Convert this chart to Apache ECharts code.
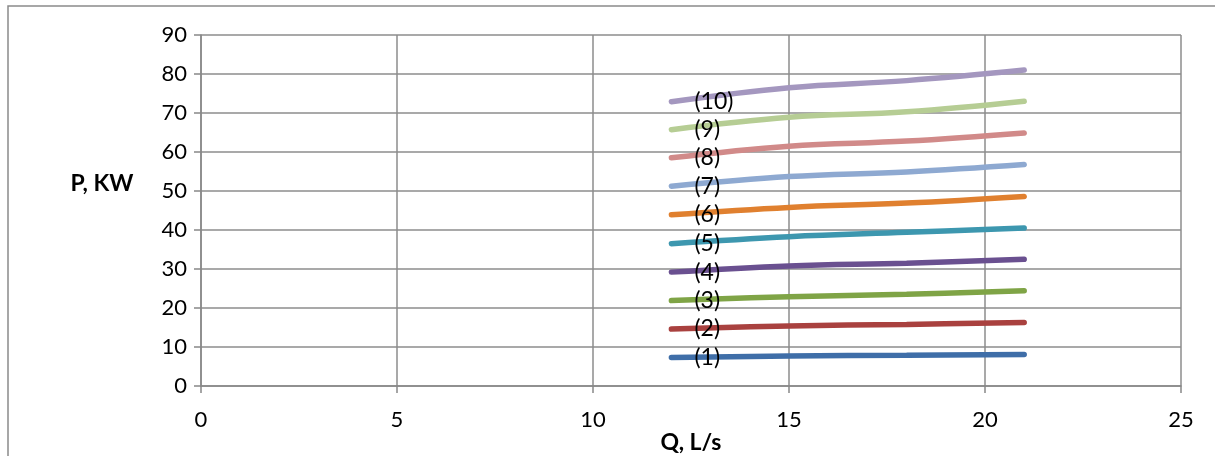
<!DOCTYPE html>
<html>
<head>
<meta charset="utf-8">
<script src="https://cdn.jsdelivr.net/npm/echarts@6/dist/echarts.min.js"></script>
<style>
html,body{margin:0;padding:0;background:#fff;}
#chart{width:1215px;height:456px;}
</style>
</head>
<body>
<div id="chart"></div>
<script>
// Data
var flowQ = [12, 15, 18, 21];
var seriesNames = ['(1)', '(2)', '(3)', '(4)', '(5)', '(6)', '(7)', '(8)', '(9)', '(10)'];
var p1 = [7.3, 7.7, 7.9, 8.1];
var p2 = [14.6, 15.4, 15.8, 16.3];
var p3 = [21.9, 22.9, 23.5, 24.4];
var p4 = [29.2, 30.8, 31.5, 32.5];
var p5 = [36.5, 38.3, 39.4, 40.5];
var p6 = [43.9, 45.8, 46.9, 48.6];
var p7 = [51.2, 53.7, 54.9, 56.8];
var p8 = [58.5, 61.5, 62.8, 64.9];
var p9 = [65.7, 68.9, 70.3, 73.0];
var p10 = [72.9, 76.5, 78.3, 81.0];
var xTicks = [0, 5, 10, 15, 20, 25];
var yTicks = [0, 10, 20, 30, 40, 50, 60, 70, 80, 90];
var xTitle = 'Q, L/s';
var yTitle = 'P, KW';

var allP = [p1, p2, p3, p4, p5, p6, p7, p8, p9, p10];
var colors = ['#3F6EA8', '#A9413F', '#7FA446', '#6A5090', '#3D97AF', '#E0802F', '#8EA9D1', '#D18A89', '#B6CD94', '#A497BF'];

var FONT = 'Lato, "Open Sans", sans-serif';
var series = allP.map(function (vals, i) {
  return {
    name: seriesNames[i],
    type: 'line',
    smooth: 0.4,
    symbol: 'circle',
    symbolSize: 2,
    showSymbol: true,
    showAllSymbol: true,
    itemStyle: { color: 'rgba(0,0,0,0)', borderWidth: 0 },
    lineStyle: { width: 5.5, color: colors[i], cap: 'round' },
    label: {
      show: true,
      position: 'right',
      distance: 22,
      offset: [0, 3],
      color: '#000',
      fontFamily: FONT,
      fontSize: 23,
      formatter: function (p) { return p.dataIndex === 0 ? seriesNames[i] : ''; }
    },
    labelLayout: { hideOverlap: false },
    data: vals.map(function (v, j) { return [flowQ[j], v]; }),
    z: 2 + i
  };
});

var chart = echarts.init(document.getElementById('chart'), null, { renderer: 'canvas' });
chart.setOption({
  animation: false,
  backgroundColor: '#fff',
  graphic: [
    { type: 'rect', shape: { x: 8, y: 6, width: 1300, height: 600 }, style: { fill: 'none', stroke: '#8a8a8a', lineWidth: 1.5 }, z: 0 },
    { type: 'text', x: 102, y: 184, style: { text: yTitle, font: 'bold 23px ' + FONT, fill: '#000', textAlign: 'center', textVerticalAlign: 'middle' }, z: 10 },
    { type: 'text', x: 691, y: 443, style: { text: xTitle, font: 'bold 23px ' + FONT, fill: '#000', textAlign: 'center', textVerticalAlign: 'middle' }, z: 10 }
  ],
  grid: { left: 201, right: 34, top: 35, bottom: 70, containLabel: false, outerBoundsMode: 'none' },
  xAxis: {
    type: 'value', min: 0, max: 25, interval: 5,
    axisLine: { show: true, lineStyle: { color: '#888', width: 1.5 } },
    axisTick: { show: true, length: 7, lineStyle: { color: '#888', width: 1.5 } },
    axisLabel: { margin: 23, fontFamily: FONT, fontSize: 22, color: '#000',
      formatter: function (v) { return xTicks.indexOf(v) >= 0 ? String(v) : ''; } },
    splitLine: { show: true, lineStyle: { color: '#8c8c8c', width: 1.5 } }
  },
  yAxis: {
    type: 'value', min: 0, max: 90, interval: 10,
    axisLine: { show: true, lineStyle: { color: '#888', width: 1.5 } },
    axisTick: { show: true, length: 7, lineStyle: { color: '#888', width: 1.5 } },
    axisLabel: { margin: 14, fontFamily: FONT, fontSize: 22, color: '#000',
      formatter: function (v) { return yTicks.indexOf(v) >= 0 ? String(v) : ''; } },
    splitLine: { show: true, lineStyle: { color: '#8c8c8c', width: 1.5 } }
  },
  series: series
});
</script>
</body>
</html>
